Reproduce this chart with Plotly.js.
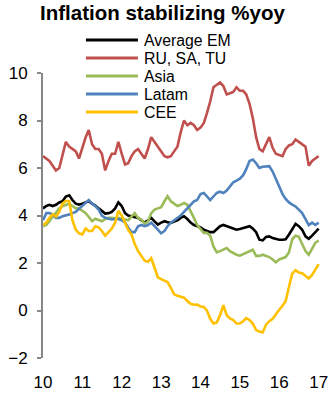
<!DOCTYPE html>
<html>
<head>
<meta charset="utf-8">
<script src="https://cdn.plot.ly/plotly-3.0.1.min.js"></script>
<style>html,body{margin:0;padding:0;background:#fff;}#chart{width:335px;height:394px;}</style>
</head>
<body>
<div id="chart"></div>
<script>
// Series names and colours
const seriesNames = ["Average EM", "RU, SA, TU", "Asia", "Latam", "CEE"];
const seriesColors = ["#000000", "#C0504D", "#9BBB59", "#4F81BD", "#FFC000"];

// Monthly %yoy, Jan 2010 .. Jan 2017
const averageEM = [4.3,4.4,4.45,4.4,4.45,4.55,4.6,4.8,4.85,4.65,4.5,4.46,
  4.5,4.55,4.6,4.5,4.42,4.3,4.2,4.08,4.1,4.15,4.3,4.55,
  4.4,4.1,4.0,3.97,3.95,3.9,3.8,3.7,3.8,3.9,3.75,3.62,
  3.7,3.76,3.72,3.69,3.75,3.8,3.9,3.97,3.85,3.7,3.6,3.55,
  3.5,3.4,3.35,3.3,3.3,3.42,3.55,3.6,3.55,3.48,3.42,3.4,
  3.43,3.48,3.52,3.55,3.45,3.3,2.98,2.95,3.1,3.12,3.05,3.0,
  2.98,2.98,3.0,3.2,3.4,3.65,3.55,3.4,3.12,3.02,3.15,3.3,
  3.45];
const ruSaTu = [6.5,6.4,6.3,6.1,5.9,6.0,6.6,7.1,6.9,6.8,6.7,6.4,
  6.9,7.3,7.6,7.0,6.8,6.8,6.6,5.9,6.3,6.6,6.6,7.1,
  6.6,6.15,6.2,6.5,6.7,6.8,6.6,6.4,6.8,7.3,7.1,6.9,
  6.7,6.5,6.45,6.5,6.7,6.9,7.5,8.0,7.8,7.9,7.8,7.6,
  7.7,7.9,8.3,8.8,9.4,9.5,9.6,9.45,9.1,9.15,9.2,9.4,
  9.25,9.25,9.1,8.7,8.1,7.3,6.8,6.7,7.0,7.3,6.85,6.6,
  6.55,6.5,6.8,6.95,7.0,7.2,7.1,7.0,6.9,6.1,6.3,6.4,
  6.5];
const asia = [3.55,3.6,3.76,3.95,4.1,4.3,4.39,4.45,4.5,4.4,4.3,4.3,
  4.2,4.1,3.95,3.76,3.86,3.82,3.76,3.85,3.9,3.9,3.88,3.9,
  3.88,3.83,3.8,3.95,4.1,3.9,3.83,3.65,3.75,4.1,4.25,4.3,
  4.35,4.6,4.81,4.6,4.5,4.4,4.45,4.53,4.45,4.2,3.9,3.6,
  3.45,3.27,3.27,3.15,2.7,2.45,2.5,2.55,2.63,2.5,2.42,2.35,
  2.31,2.38,2.42,2.5,2.56,2.3,2.3,2.35,2.3,2.25,2.15,2.03,
  2.15,2.2,2.25,2.45,3.0,3.15,3.1,2.8,2.5,2.35,2.6,2.85,
  2.95];
const latam = [3.8,4.1,4.1,4.05,3.9,3.9,3.97,4.0,4.04,4.1,4.15,4.28,
  4.4,4.55,4.65,4.5,4.4,4.25,4.0,3.9,3.85,3.83,3.85,3.85,
  3.8,3.7,3.5,3.3,3.3,3.55,3.6,3.55,3.6,3.7,3.55,3.4,
  3.25,3.35,3.55,3.7,3.8,3.9,4.0,4.15,4.3,4.45,4.6,4.65,
  4.9,4.95,4.8,4.65,4.8,4.95,5.0,4.95,5.05,5.2,5.4,5.47,
  5.55,5.7,5.95,6.3,6.36,6.2,6.0,6.05,6.08,6.08,5.85,5.55,
  5.2,4.9,4.7,4.55,4.46,4.38,4.25,4.1,3.85,3.6,3.7,3.6,
  3.7];
const cee = [3.6,3.7,3.9,4.05,3.95,4.15,4.5,4.62,4.6,3.8,3.4,3.25,
  3.2,3.45,3.35,3.35,3.55,3.5,3.35,3.15,3.3,3.45,3.7,4.2,
  4.0,3.65,3.4,3.2,2.8,2.5,2.28,2.1,2.05,2.2,1.8,1.4,
  1.32,1.25,1.2,0.95,0.68,0.62,0.58,0.54,0.4,0.28,0.24,0.25,
  0.17,0.15,0.0,-0.35,-0.55,-0.5,-0.2,0.22,-0.2,-0.33,-0.4,-0.55,
  -0.55,-0.45,-0.32,-0.4,-0.55,-0.82,-0.88,-0.92,-0.6,-0.45,-0.35,-0.15,
  0.03,0.2,0.4,1.0,1.55,1.7,1.6,1.57,1.45,1.35,1.5,1.75,
  1.95];
const seriesValues = [averageEM, ruSaTu, asia, latam, cee];

// Axis ticks
const xTickVals = ["2010-01-01","2011-01-01","2012-01-01","2013-01-01","2014-01-01","2015-01-01","2016-01-01","2017-01-01"];
const xTickText = ["10","11","12","13","14","15","16","17"];
const yTickVals = [-2, 0, 2, 4, 6, 8, 10];

// Month categories
const months = [];
for (let i = 0; i < averageEM.length; i++) {
  const yr = 2010 + Math.floor(i / 12), mo = (i % 12) + 1;
  months.push(yr + "-" + String(mo).padStart(2, "0") + "-01");
}

const W = 335, H = 394;
const M = {l: 43, r: 12.7, t: 73, b: 36};
const PW = W - M.l - M.r, PH = H - M.t - M.b;
const px2x = p => (p - M.l) / PW;
const px2y = p => (H - M.b - p) / PH;
const yMin = -2, yMax = 10;
const axisGrey = "#878787";
const FONT = "Liberation Sans, Arial, sans-serif";
const ROW = 18;

const traces = seriesValues.map((vals, i) => ({
  type: "scatter", mode: "lines", x: months, y: vals, name: seriesNames[i],
  line: {color: seriesColors[i], width: 2.6}, hoverinfo: "skip", showlegend: false
}));

// Legend built from the series names/colours
const shapes = [], annotations = [];
seriesNames.forEach((nm, i) => {
  const rowY = 40 + ROW * i;
  shapes.push({type: "line", xref: "paper", yref: "paper",
    x0: px2x(86), x1: px2x(138), y0: px2y(rowY), y1: px2y(rowY),
    line: {color: seriesColors[i], width: 3}});
  annotations.push({xref: "paper", yref: "paper", x: px2x(142), y: px2y(rowY),
    xanchor: "left", yanchor: "middle", showarrow: false, text: nm,
    font: {family: FONT, size: 15.8, color: "#000"}});
});

const layout = {
  width: W, height: H, margin: M,
  paper_bgcolor: "#fff", plot_bgcolor: "#fff",
  showlegend: false,
  title: {text: "Inflation stabilizing %yoy", xref: "container", yref: "container",
    x: 0.485, xanchor: "center", y: 0.985, yanchor: "top",
    font: {family: FONT, size: 20.5, weight: "bold", color: "#000"}},
  xaxis: {type: "date", range: ["2010-01-01", "2017-02-01"], tickvals: xTickVals, ticktext: xTickText,
    showline: false, showgrid: false, zeroline: false, ticks: "", ticklabelstandoff: 12,
    tickfont: {family: FONT, size: 17, color: "#000"}},
  xaxis2: {type: "date", overlaying: "x", anchor: "free", position: (0 - yMin) / (yMax - yMin), side: "bottom",
    range: ["2010-01-01", "2017-02-01"], tickvals: xTickVals, showticklabels: false,
    showline: true, linecolor: axisGrey, linewidth: 2, ticks: "outside", ticklen: 5, tickwidth: 2,
    tickcolor: axisGrey, showgrid: false, zeroline: false},
  yaxis: {range: [yMin, yMax], tickvals: yTickVals, showline: true, linecolor: axisGrey, linewidth: 2,
    ticks: "outside", ticklen: 4, tickwidth: 2, tickcolor: axisGrey, showgrid: false, zeroline: false,
    ticklabelstandoff: 6, tickfont: {family: FONT, size: 17, color: "#000"}},
  shapes: shapes, annotations: annotations
};

Plotly.newPlot("chart", traces, layout, {staticPlot: true, displayModeBar: false});
</script>
</body>
</html>
